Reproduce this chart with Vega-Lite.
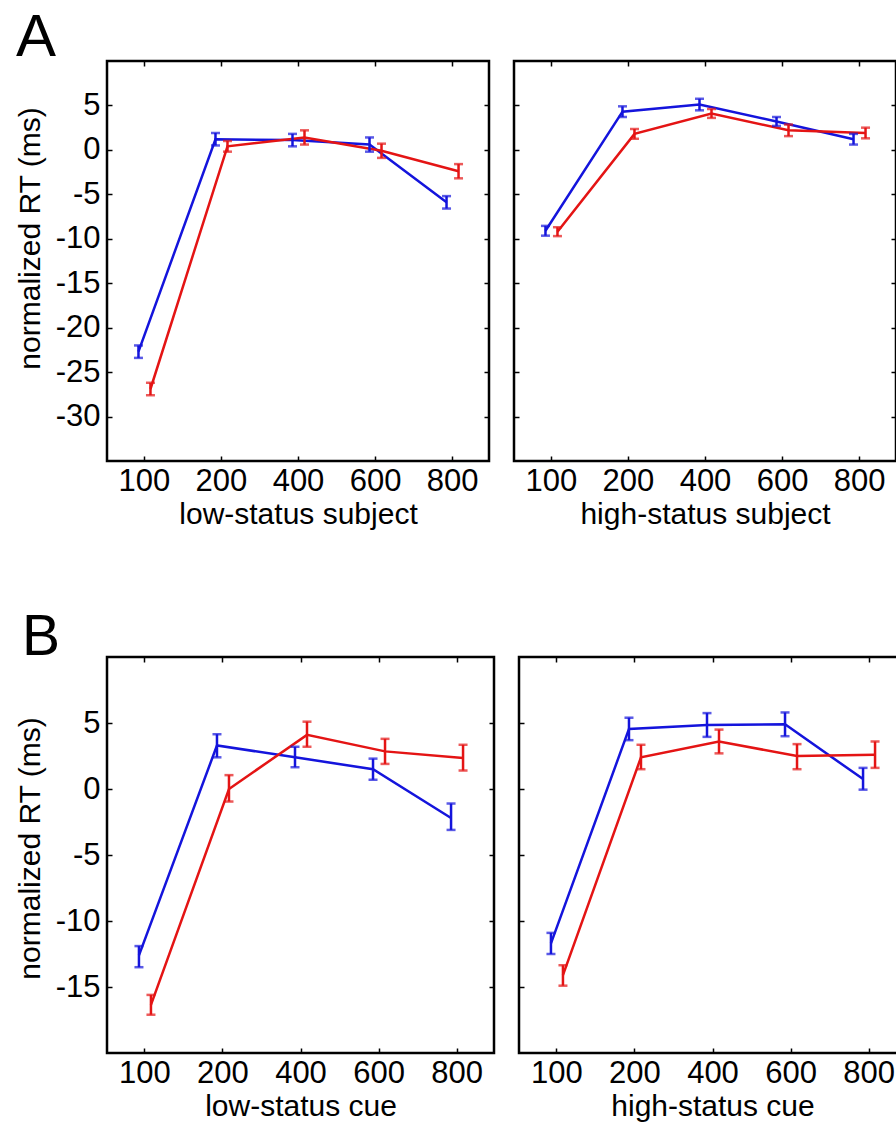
{
  "$schema": "https://vega.github.io/schema/vega-lite/v6.json",
  "padding": {"left": 13, "top": 8, "right": 0, "bottom": 0},
  "background": "white",
  "datasets": {
    "rt": [
      {"panel": "A1", "soa": 100, "group": "S1", "mean": -22.7, "lo": -23.4, "hi": -22.0},
      {"panel": "A1", "soa": 200, "group": "S1", "mean": 1.2, "lo": 0.5, "hi": 1.9},
      {"panel": "A1", "soa": 400, "group": "S1", "mean": 1.1, "lo": 0.4, "hi": 1.8},
      {"panel": "A1", "soa": 600, "group": "S1", "mean": 0.6, "lo": -0.2, "hi": 1.4},
      {"panel": "A1", "soa": 800, "group": "S1", "mean": -5.9, "lo": -6.6, "hi": -5.2},
      {"panel": "A1", "soa": 100, "group": "S2", "mean": -26.9, "lo": -27.6, "hi": -26.2},
      {"panel": "A1", "soa": 200, "group": "S2", "mean": 0.4, "lo": -0.2, "hi": 1.0},
      {"panel": "A1", "soa": 400, "group": "S2", "mean": 1.4, "lo": 0.6, "hi": 2.2},
      {"panel": "A1", "soa": 600, "group": "S2", "mean": -0.1, "lo": -0.9, "hi": 0.7},
      {"panel": "A1", "soa": 800, "group": "S2", "mean": -2.4, "lo": -3.2, "hi": -1.6},
      {"panel": "A2", "soa": 100, "group": "S1", "mean": -9.1, "lo": -9.65, "hi": -8.55},
      {"panel": "A2", "soa": 200, "group": "S1", "mean": 4.3, "lo": 3.7, "hi": 4.9},
      {"panel": "A2", "soa": 400, "group": "S1", "mean": 5.1, "lo": 4.45, "hi": 5.75},
      {"panel": "A2", "soa": 600, "group": "S1", "mean": 3.2, "lo": 2.7, "hi": 3.7},
      {"panel": "A2", "soa": 800, "group": "S1", "mean": 1.2, "lo": 0.6, "hi": 1.8},
      {"panel": "A2", "soa": 100, "group": "S2", "mean": -9.2, "lo": -9.7, "hi": -8.7},
      {"panel": "A2", "soa": 200, "group": "S2", "mean": 1.8, "lo": 1.25, "hi": 2.35},
      {"panel": "A2", "soa": 400, "group": "S2", "mean": 4.1, "lo": 3.6, "hi": 4.6},
      {"panel": "A2", "soa": 600, "group": "S2", "mean": 2.2, "lo": 1.55, "hi": 2.85},
      {"panel": "A2", "soa": 800, "group": "S2", "mean": 1.9, "lo": 1.3, "hi": 2.5},
      {"panel": "B1", "soa": 100, "group": "S1", "mean": -12.6, "lo": -13.5, "hi": -11.9},
      {"panel": "B1", "soa": 200, "group": "S1", "mean": 3.3, "lo": 2.4, "hi": 4.15},
      {"panel": "B1", "soa": 400, "group": "S1", "mean": 2.4, "lo": 1.65, "hi": 3.2},
      {"panel": "B1", "soa": 600, "group": "S1", "mean": 1.5, "lo": 0.7, "hi": 2.3},
      {"panel": "B1", "soa": 800, "group": "S1", "mean": -2.2, "lo": -3.1, "hi": -1.1},
      {"panel": "B1", "soa": 100, "group": "S2", "mean": -16.35, "lo": -17.1, "hi": -15.6},
      {"panel": "B1", "soa": 200, "group": "S2", "mean": 0.0, "lo": -0.95, "hi": 1.05},
      {"panel": "B1", "soa": 400, "group": "S2", "mean": 4.1, "lo": 3.2, "hi": 5.1},
      {"panel": "B1", "soa": 600, "group": "S2", "mean": 2.85, "lo": 1.9, "hi": 3.8},
      {"panel": "B1", "soa": 800, "group": "S2", "mean": 2.35, "lo": 1.4, "hi": 3.35},
      {"panel": "B2", "soa": 100, "group": "S1", "mean": -11.7, "lo": -12.5, "hi": -10.9},
      {"panel": "B2", "soa": 200, "group": "S1", "mean": 4.55, "lo": 3.7, "hi": 5.4},
      {"panel": "B2", "soa": 400, "group": "S1", "mean": 4.85, "lo": 3.95, "hi": 5.75},
      {"panel": "B2", "soa": 600, "group": "S1", "mean": 4.9, "lo": 4.0, "hi": 5.8},
      {"panel": "B2", "soa": 800, "group": "S1", "mean": 0.75, "lo": -0.05, "hi": 1.6},
      {"panel": "B2", "soa": 100, "group": "S2", "mean": -14.1, "lo": -14.9, "hi": -13.35},
      {"panel": "B2", "soa": 200, "group": "S2", "mean": 2.4, "lo": 1.5, "hi": 3.35},
      {"panel": "B2", "soa": 400, "group": "S2", "mean": 3.6, "lo": 2.7, "hi": 4.5},
      {"panel": "B2", "soa": 600, "group": "S2", "mean": 2.5, "lo": 1.5, "hi": 3.4},
      {"panel": "B2", "soa": 800, "group": "S2", "mean": 2.6, "lo": 1.6, "hi": 3.6}
    ]
  },
  "data": {"name": "rt"},
  "vconcat": [
    {
      "title": {"text": "A", "anchor": "start", "frame": "bounds", "fontSize": 60, "fontWeight": "normal", "font": "Liberation Sans", "color": "black", "baseline": "alphabetic", "offset": -57, "dx": 2},
      "spacing": 21,
      "hconcat": [
        {
          "width": 382, "height": 400,
          "transform": [{"filter": "datum.panel === 'A1'"}],
          "encoding": {
            "xOffset": {"field": "group", "type": "nominal", "scale": {"type": "point", "range": [-5.5, 6.5], "padding": 0}},
            "color": {"field": "group", "type": "nominal", "scale": {"domain": ["S1", "S2"], "range": ["#1414dc", "#e41414"]}, "legend": null}
          },
          "layer": [
            {"mark": {"type": "line", "strokeWidth": 2.5},
             "encoding": {
               "x": {"field": "soa", "type": "ordinal", "scale": {"type": "point", "padding": 0.48}, "axis": {"orient": "bottom", "labelAngle": 0, "title": "low-status subject"}},
               "y": {"field": "mean", "type": "quantitative", "scale": {"domain": [-35, 10], "nice": false, "zero": false}, "axis": {"orient": "left", "values": [-30, -25, -20, -15, -10, -5, 0, 5], "labelExpr": "'' + datum.value", "title": "normalized RT (ms)", "titleY": 177}}}},
            {"mark": {"type": "rule", "strokeWidth": 2.5},
             "encoding": {
               "x": {"field": "soa", "type": "ordinal", "axis": {"orient": "top", "labels": false, "title": null}},
               "y": {"field": "lo", "type": "quantitative", "axis": {"orient": "right", "labels": false, "title": null, "values": [-30, -25, -20, -15, -10, -5, 0, 5]}},
               "y2": {"field": "hi"}}},
            {"mark": {"type": "tick", "thickness": 2.5, "size": 9},
             "encoding": {"x": {"field": "soa", "type": "ordinal", "axis": null}, "y": {"field": "lo", "type": "quantitative", "axis": null}}},
            {"mark": {"type": "tick", "thickness": 2.5, "size": 9},
             "encoding": {"x": {"field": "soa", "type": "ordinal", "axis": null}, "y": {"field": "hi", "type": "quantitative", "axis": null}}}
          ],
          "resolve": {"axis": {"x": "independent", "y": "independent"}}
        },
        {
          "width": 382, "height": 400,
          "transform": [{"filter": "datum.panel === 'A2'"}],
          "encoding": {
            "xOffset": {"field": "group", "type": "nominal", "scale": {"type": "point", "range": [-5.5, 6.5], "padding": 0}},
            "color": {"field": "group", "type": "nominal", "scale": {"domain": ["S1", "S2"], "range": ["#1414dc", "#e41414"]}, "legend": null}
          },
          "layer": [
            {"mark": {"type": "line", "strokeWidth": 2.5},
             "encoding": {
               "x": {"field": "soa", "type": "ordinal", "scale": {"type": "point", "padding": 0.48}, "axis": {"orient": "bottom", "labelAngle": 0, "title": "high-status subject"}},
               "y": {"field": "mean", "type": "quantitative", "scale": {"domain": [-35, 10], "nice": false, "zero": false}, "axis": {"orient": "left", "labels": false, "values": [-30, -25, -20, -15, -10, -5, 0, 5], "title": null}}}},
            {"mark": {"type": "rule", "strokeWidth": 2.5},
             "encoding": {
               "x": {"field": "soa", "type": "ordinal", "axis": {"orient": "top", "labels": false, "title": null}},
               "y": {"field": "lo", "type": "quantitative", "axis": {"orient": "right", "labels": false, "title": null, "values": [-30, -25, -20, -15, -10, -5, 0, 5]}},
               "y2": {"field": "hi"}}},
            {"mark": {"type": "tick", "thickness": 2.5, "size": 9},
             "encoding": {"x": {"field": "soa", "type": "ordinal", "axis": null}, "y": {"field": "lo", "type": "quantitative", "axis": null}}},
            {"mark": {"type": "tick", "thickness": 2.5, "size": 9},
             "encoding": {"x": {"field": "soa", "type": "ordinal", "axis": null}, "y": {"field": "hi", "type": "quantitative", "axis": null}}}
          ],
          "resolve": {"axis": {"x": "independent", "y": "independent"}}
        }
      ]
    },
    {
      "title": {"text": "B", "anchor": "start", "frame": "bounds", "fontSize": 57, "fontWeight": "normal", "font": "Liberation Sans", "color": "black", "baseline": "alphabetic", "offset": -57, "dx": 8},
      "spacing": 21,
      "hconcat": [
        {
          "width": 387, "height": 396,
          "transform": [{"filter": "datum.panel === 'B1'"}],
          "encoding": {
            "xOffset": {"field": "group", "type": "nominal", "scale": {"type": "point", "range": [-5.5, 6.5], "padding": 0}},
            "color": {"field": "group", "type": "nominal", "scale": {"domain": ["S1", "S2"], "range": ["#1414dc", "#e41414"]}, "legend": null}
          },
          "layer": [
            {"mark": {"type": "line", "strokeWidth": 2.5},
             "encoding": {
               "x": {"field": "soa", "type": "ordinal", "scale": {"type": "point", "padding": 0.48}, "axis": {"orient": "bottom", "labelAngle": 0, "title": "low-status cue"}},
               "y": {"field": "mean", "type": "quantitative", "scale": {"domain": [-20, 10], "nice": false, "zero": false}, "axis": {"orient": "left", "values": [-15, -10, -5, 0, 5], "labelExpr": "'' + datum.value", "title": "normalized RT (ms)", "titleY": 191}}}},
            {"mark": {"type": "rule", "strokeWidth": 2.5},
             "encoding": {
               "x": {"field": "soa", "type": "ordinal", "axis": {"orient": "top", "labels": false, "title": null}},
               "y": {"field": "lo", "type": "quantitative", "axis": {"orient": "right", "labels": false, "title": null, "values": [-15, -10, -5, 0, 5]}},
               "y2": {"field": "hi"}}},
            {"mark": {"type": "tick", "thickness": 2.5, "size": 9},
             "encoding": {"x": {"field": "soa", "type": "ordinal", "axis": null}, "y": {"field": "lo", "type": "quantitative", "axis": null}}},
            {"mark": {"type": "tick", "thickness": 2.5, "size": 9},
             "encoding": {"x": {"field": "soa", "type": "ordinal", "axis": null}, "y": {"field": "hi", "type": "quantitative", "axis": null}}}
          ],
          "resolve": {"axis": {"x": "independent", "y": "independent"}}
        },
        {
          "width": 387, "height": 396,
          "transform": [{"filter": "datum.panel === 'B2'"}],
          "encoding": {
            "xOffset": {"field": "group", "type": "nominal", "scale": {"type": "point", "range": [-5.5, 6.5], "padding": 0}},
            "color": {"field": "group", "type": "nominal", "scale": {"domain": ["S1", "S2"], "range": ["#1414dc", "#e41414"]}, "legend": null}
          },
          "layer": [
            {"mark": {"type": "line", "strokeWidth": 2.5},
             "encoding": {
               "x": {"field": "soa", "type": "ordinal", "scale": {"type": "point", "padding": 0.48}, "axis": {"orient": "bottom", "labelAngle": 0, "title": "high-status cue"}},
               "y": {"field": "mean", "type": "quantitative", "scale": {"domain": [-20, 10], "nice": false, "zero": false}, "axis": {"orient": "left", "labels": false, "values": [-15, -10, -5, 0, 5], "title": null}}}},
            {"mark": {"type": "rule", "strokeWidth": 2.5},
             "encoding": {
               "x": {"field": "soa", "type": "ordinal", "axis": {"orient": "top", "labels": false, "title": null}},
               "y": {"field": "lo", "type": "quantitative", "axis": {"orient": "right", "labels": false, "title": null, "values": [-15, -10, -5, 0, 5]}},
               "y2": {"field": "hi"}}},
            {"mark": {"type": "tick", "thickness": 2.5, "size": 9},
             "encoding": {"x": {"field": "soa", "type": "ordinal", "axis": null}, "y": {"field": "lo", "type": "quantitative", "axis": null}}},
            {"mark": {"type": "tick", "thickness": 2.5, "size": 9},
             "encoding": {"x": {"field": "soa", "type": "ordinal", "axis": null}, "y": {"field": "hi", "type": "quantitative", "axis": null}}}
          ],
          "resolve": {"axis": {"x": "independent", "y": "independent"}}
        }
      ]
    }
  ],
  "spacing": 78,
  "config": {
    "font": "Liberation Sans",
    "view": {"stroke": "black", "strokeWidth": 2.5},
    "axis": {
      "domain": false, "grid": false,
      "labelFont": "Liberation Sans", "labelFontSize": 31, "labelColor": "black",
      "titleFont": "Liberation Sans", "titleFontSize": 30, "titleFontWeight": "normal", "titleColor": "black",
      "tickColor": "black", "tickSize": -5, "tickWidth": 1.5
    },
    "axisBottom": {"labelPadding": 10, "titlePadding": 3},
    "axisLeft": {"labelPadding": 12, "titlePadding": 10}
  }
}
